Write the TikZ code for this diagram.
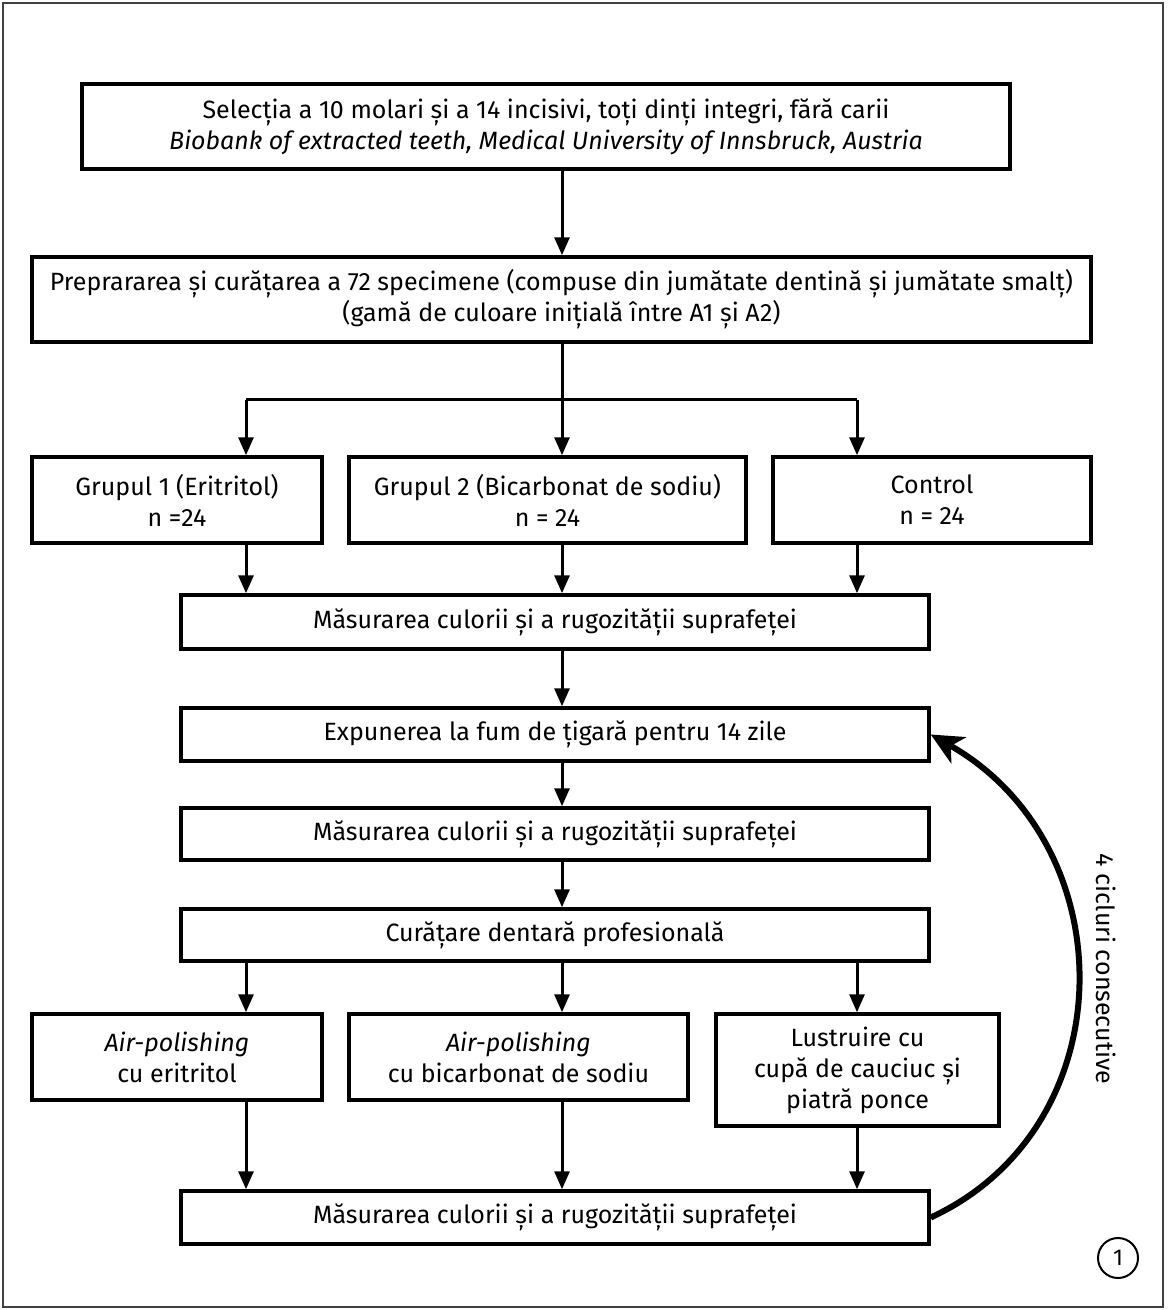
\documentclass[tikz,border=0pt]{standalone}
\usepackage{fontspec}
\setmainfont{Fira Sans}
\usetikzlibrary{arrows.meta}
\begin{document}
\begin{tikzpicture}[x=1pt,y=-1pt,
  box/.style={draw, line width=3.5pt, align=center, inner sep=0pt, font=\fontsize{25}{31}\selectfont},
  arr/.style={line width=3pt, -{Triangle[length=18pt,width=15pt]}},
  plain/.style={line width=3pt},
  curv/.style={line width=6pt, -{Stealth[length=32pt,width=30pt,inset=9pt]}}]
\useasboundingbox (0,0) rectangle (1168,1310);
\draw[line width=1.5pt, black!75] (3,3) rectangle (1163,1307);
\coordinate (xl) at (246,0);
\coordinate (xc) at (562,0);
\coordinate (xr) at (857,0);
\node[box, minimum width=928pt, minimum height=85pt] (b1) at (546,126.5) {Selecția a 10 molari și a 14 incisivi, toți dinți integri, fără carii\\\textit{Biobank of extracted teeth, Medical University of Innsbruck, Austria}};
\node[box, minimum width=1059pt, minimum height=85pt] (b2) at (561.5,299.5) {Preprararea și curățarea a 72 specimene (compuse din jumătate dentină și jumătate smalț)\\(gamă de culoare inițială între A1 și A2)};
\node[box, minimum width=290pt, minimum height=86pt] (g1) at (177,500) {Grupul 1 (Eritritol)\\n =24};
\node[box, minimum width=397pt, minimum height=86pt] (g2) at (547.5,500) {Grupul 2 (Bicarbonat de sodiu)\\n = 24};
\node[box, minimum width=318pt, minimum height=86pt] (g3) at (932,500) {Control\\n = 24};
\node[box, minimum width=748pt, minimum height=54pt] (m1) at (555,622) {Măsurarea culorii și a rugozității suprafeței};
\node[box, minimum width=748pt, minimum height=53pt] (e) at (555,734.5) {Expunerea la fum de țigară pentru 14 zile};
\node[box, minimum width=748pt, minimum height=52pt] (m2) at (555,834) {Măsurarea culorii și a rugozității suprafeței};
\node[box, minimum width=748pt, minimum height=52pt] (c) at (555,935) {Curățare dentară profesională};
\node[box, minimum width=290pt, minimum height=86pt] (a1) at (177,1057) {\textit{Air-polishing}\\cu eritritol};
\node[box, minimum width=339pt, minimum height=86pt] (a2) at (518.5,1057) {\textit{Air-polishing}\\cu bicarbonat de sodiu};
\node[box, minimum width=283pt, minimum height=112pt] (l) at (857.5,1070) {Lustruire cu\\cupă de cauciuc și\\piatră ponce};
\node[box, minimum width=748pt, minimum height=53pt] (m3) at (555,1217.5) {Măsurarea culorii și a rugozității suprafeței};
% connectors
\draw[arr] (b1.south -| xc) -- (b2.north -| xc);
\draw[plain] (b2.south -| xc) -- ++(0,56) coordinate (sp);
\draw[plain] (sp -| xl) -- (sp -| xr);
\draw[arr] (sp -| xl) -- (g1.north -| xl);
\draw[arr] (sp -| xc) -- (g2.north -| xc);
\draw[arr] (sp -| xr) -- (g3.north -| xr);
\draw[arr] (g1.south -| xl) -- (m1.north -| xl);
\draw[arr] (g2.south -| xc) -- (m1.north -| xc);
\draw[arr] (g3.south -| xr) -- (m1.north -| xr);
\draw[arr] (m1.south -| xc) -- (e.north -| xc);
\draw[arr] (e.south -| xc) -- (m2.north -| xc);
\draw[arr] (m2.south -| xc) -- (c.north -| xc);
\draw[arr] (c.south -| xl) -- (a1.north -| xl);
\draw[arr] (c.south -| xc) -- (a2.north -| xc);
\draw[arr] (c.south -| xr) -- (l.north -| xr);
\draw[arr] (a1.south -| xl) -- (m3.north -| xl);
\draw[arr] (a2.south -| xc) -- (m3.north -| xc);
\draw[arr] (l.south -| xr) -- (m3.north -| xr);
\draw[curv] (m3.east) .. controls (1126,1127) and (1126,845) .. (e.east);
\node[rotate=-90, font=\fontsize{25}{31}\selectfont] (lab) at (1106,969) {4 cicluri consecutive};
\node[draw, circle, line width=2pt, minimum size=40pt, inner sep=0pt, font=\fontsize{23}{26}\selectfont] (num) at (1118,1258) {1};
\end{tikzpicture}
\end{document}
